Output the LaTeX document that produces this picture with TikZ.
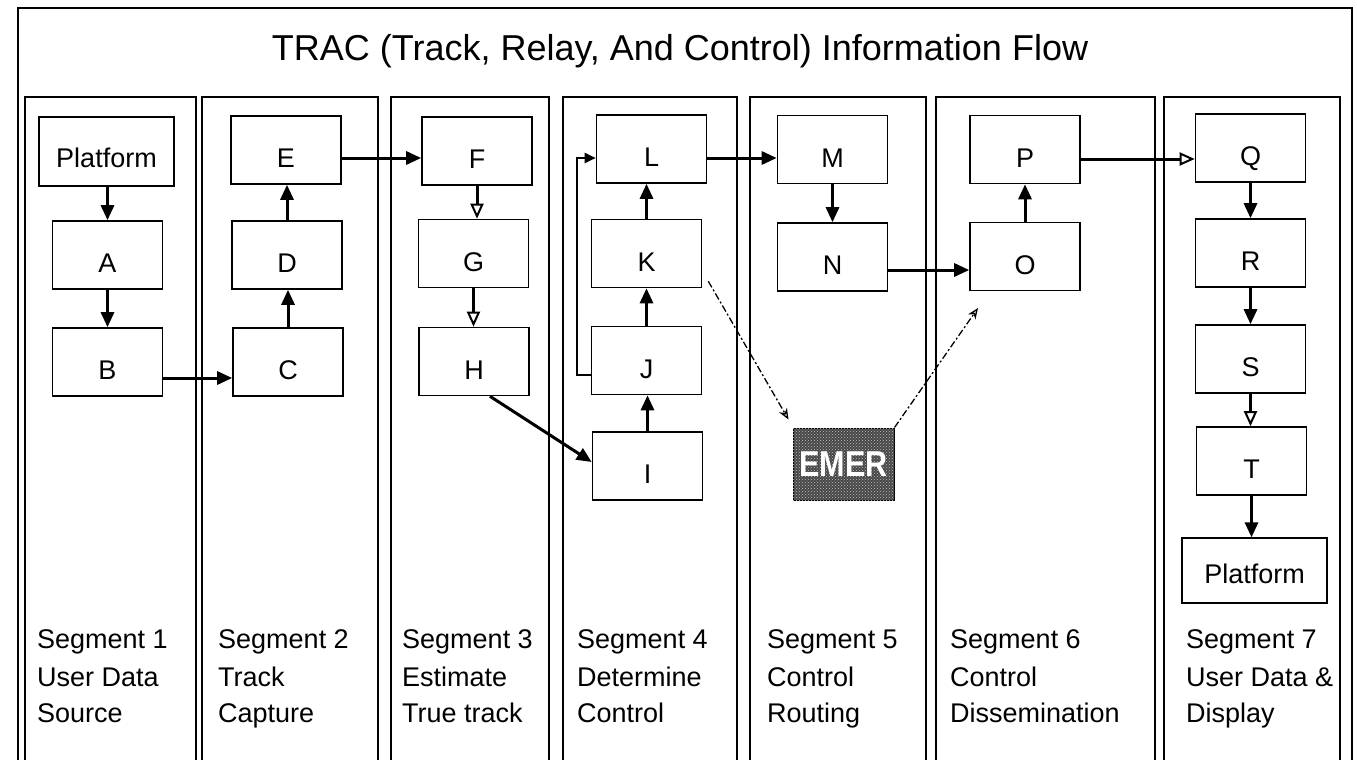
\documentclass[tikz,border=0pt]{standalone}
\usepackage{fontspec}
\setmainfont{Liberation Sans}
\usetikzlibrary{arrows.meta,patterns,calc}
\tikzset{
  box/.style={draw, line width=1.6pt, minimum width=110pt, minimum height=68pt, inner sep=0pt, text height=35pt, text depth=0pt, font=\fontsize{27}{30}\selectfont},
  flow/.style={line width=3pt, -{Triangle[length=15pt,width=13pt]}},
  flowopen/.style={line width=3pt, -{Triangle[open,length=15pt,width=13pt,line width=2pt]}},
  loopflow/.style={line width=2pt, -{Triangle[length=11pt,width=10pt]}},
  emerlink/.style={line width=1.3pt, dash pattern=on 7pt off 2.5pt on 2pt off 2.5pt, -{Stealth[open,length=11pt,width=9pt,line width=1.3pt]}},
  col/.style={line width=1.6pt},
  seglab/.style={anchor=base west, inner sep=0pt, font=\fontsize{27}{32}\selectfont},
}
\newcommand{\seglabel}[5]{%
  \node[seglab] (#1a) at (#2,648) {#3};
  \node[seglab] (#1b) at (#2,686) {#4};
  \node[seglab] (#1c) at (#2,722) {#5};}
\begin{document}
\begin{tikzpicture}[x=1pt,y=-1pt]
\useasboundingbox (0,0) rectangle (1357,760);
\clip (0,0) rectangle (1357,760);
% outer frame
\draw[line width=2pt] (18,800) -- (18,8) -- (1352,8) -- (1352,800);
% title
\node[anchor=base, inner sep=0pt, font=\fontsize{36}{40}\selectfont] (title) at (680,60) {TRAC (Track, Relay, And Control) Information Flow};
% columns
\foreach \a/\b in {25/196, 202/378, 391/549, 563/737, 750/926, 936/1155, 1164/1340}{
  \draw[col] (\a,800) -- (\a,97) -- (\b,97) -- (\b,800);
}
% boxes
\node[box, minimum width=135pt, minimum height=69pt, text height=31pt] (Pf1) at (106.5,151.5) {Platform};
\node[box] (A) at (107.5,255) {A};
\node[box] (B) at (107.5,362) {B};
\node[box] (E) at (286,150) {E};
\node[box] (D) at (287,255) {D};
\node[box] (C) at (288,362) {C};
\node[box] (F) at (477,151) {F};
\node[box] (G) at (473.5,253.5) {G};
\node[box] (H) at (474,361.5) {H};
\node[box] (L) at (651.5,149) {L};
\node[box] (K) at (646.5,253.5) {K};
\node[box] (J) at (646.5,360.5) {J};
\node[box] (I) at (647.5,466) {I};
\node[box] (M) at (832.5,149.5) {M};
\node[box] (N) at (832.5,257) {N};
\node[box] (P) at (1025,149.5) {P};
\node[box] (O) at (1025,256.5) {O};
\node[box] (Q) at (1250.5,148) {Q};
\node[box] (R) at (1250.5,253) {R};
\node[box] (S) at (1250.5,359) {S};
\node[box] (T) at (1251.5,461) {T};
\node[box, line width=1.3pt, minimum width=145pt, minimum height=65pt, text height=26pt] (Pf2) at (1254.5,570.5) {Platform};
\node[draw, line width=1pt, fill=black!72, postaction={pattern=crosshatch dots, pattern color=white!75!black}, minimum width=101pt, minimum height=72pt, inner sep=0pt, text=white, font=\bfseries\fontsize{36}{38}\selectfont] (EMER) at (843.5,464) {\scalebox{0.85}[1]{EMER}};
\coordinate (emerTip) at (978,308);
% flows
\draw[flow] (A.north |- Pf1.south) -- (A.north);
\draw[flow] (A.south) -- (A.south |- B.north);
\draw[flow] ([yshift=-16pt]B.east) -- ([yshift=-16pt]B.east -| C.west);
\draw[flow] (C.north) -- (C.north |- D.south);
\draw[flow] (D.north) -- (D.north |- E.south);
\draw[flow] ([yshift=-8pt]E.east) -- ([yshift=-8pt]E.east -| F.west);
\draw[flowopen] (F.south) -- (F.south |- G.north);
\draw[flowopen] (G.south) -- (G.south |- H.north);
\draw[flow] ([xshift=16pt]H.south) -- ([yshift=4pt]I.west);
\draw[flow] (I.north) -- (I.north |- J.south);
\draw[flow] (J.north) -- (J.north |- K.south);
\draw[flow] (K.north) -- (K.north |- L.south);
\draw[loopflow] ([yshift=-14.5pt]J.west) -- ++(-14pt,0) |- ([yshift=-9pt]L.west);
\draw[flow] ([yshift=-9pt]L.east) -- ([yshift=-9pt]L.east -| M.west);
\draw[flow] (M.south) -- (M.south |- N.north);
\draw[flow] ([yshift=-13pt]N.east) -- ([yshift=-13pt]N.east -| O.west);
\draw[flow] (O.north) -- (O.north |- P.south);
\draw[flowopen] ([yshift=-9.5pt]P.east) -- ([yshift=-9.5pt]P.east -| Q.west);
\draw[flow] (Q.south) -- (Q.south |- R.north);
\draw[flow] (R.south) -- (R.south |- S.north);
\draw[flowopen] (S.south) -- (S.south |- T.north);
\draw[flow] (T.south) -- (T.south |- Pf2.north);
% emergency links
\draw[emerlink] ([shift={(6pt,7pt)}]K.south east) -- ([shift={(-4pt,8pt)}]EMER.north west);
\draw[emerlink] (EMER.north east) -- (emerTip);
% segment labels
\seglabel{sa}{37}{Segment 1}{User Data}{Source}
\seglabel{sb}{218}{Segment 2}{Track}{Capture}
\seglabel{sc}{402}{Segment 3}{Estimate}{True track}
\seglabel{sd}{577}{Segment 4}{Determine}{Control}
\seglabel{se}{767}{Segment 5}{Control}{Routing}
\seglabel{sf}{950}{Segment 6}{Control}{Dissemination}
\seglabel{sg}{1186}{Segment 7}{User Data \&}{Display}
\end{tikzpicture}
\end{document}
